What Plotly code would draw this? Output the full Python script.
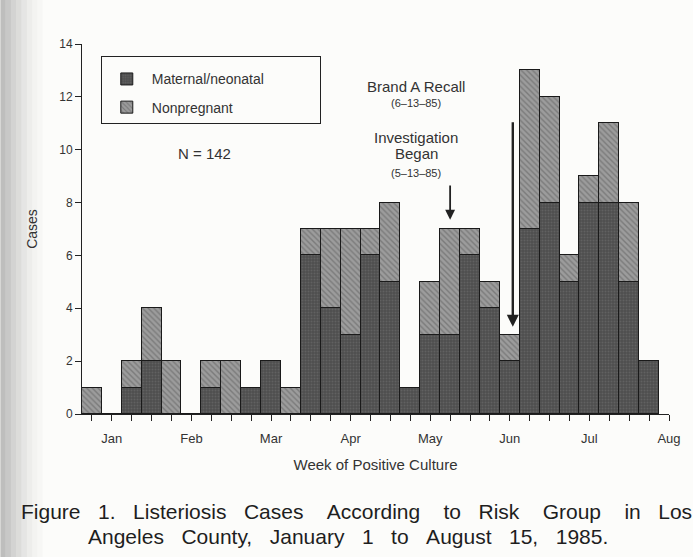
import plotly.graph_objects as go

# weekly case counts, Jan 1 - Aug 15, 1985 (29 weeks)
weeks = list(range(1, 30))
maternal = [0, 0, 1, 2, 0, 0, 1, 0, 1, 2, 0,
            6, 4, 3, 6, 5, 1, 3, 3, 6, 4, 2,
            7, 8, 5, 8, 8, 5, 2]
nonpregnant = [1, 0, 1, 2, 2, 0, 1, 2, 0, 0, 1,
               1, 3, 4, 1, 3, 0, 2, 4, 1, 1, 1,
               6, 4, 1, 1, 3, 3, 0]

month_pos = [2, 6, 10, 14, 18, 22, 26, 30]
month_labels = ["Jan", "Feb", "Mar", "Apr", "May", "Jun", "Jul", "Aug"]

font = "Liberation Sans, Arial, sans-serif"
ink = "#222222"
sp = "&#160;"
pad = "\u00a0" * 13  # widens the legend box like the print

fig = go.Figure()
fig.add_trace(go.Bar(
    x=weeks, y=maternal, name="Maternal/neonatal" + pad, legendgroup="m",
    marker=dict(color="#525252", line=dict(color="#1a1a1a", width=1),
                pattern=dict(shape=".", bgcolor="#4e4e4e", fgcolor="#737373",
                             size=3, solidity=0.35)),
))
fig.add_trace(go.Bar(
    x=weeks, y=nonpregnant, name="Nonpregnant", legendgroup="n",
    marker=dict(color="#8e8e8e", line=dict(color="#1a1a1a", width=1),
                pattern=dict(shape="\\", bgcolor="#9c9c9c", fgcolor="#5a5a5a",
                             size=4, solidity=0.35)),
))

# tick labels only at month positions
tickvals = list(range(1, 31))
ticktext = [month_labels[month_pos.index(v)] if v in month_pos else "" for v in tickvals]

fig.update_xaxes(range=[0.5, 30], tickvals=tickvals, ticktext=ticktext,
                 ticks="outside", ticklen=6, tickcolor=ink, showline=True,
                 linecolor=ink, linewidth=1, showgrid=False, zeroline=False,
                 ticklabelstandoff=6,
                 tickfont=dict(size=13, color="#333"),
                 title=dict(text="Week of Positive Culture", standoff=14,
                            font=dict(size=15, color="#333")))
fig.update_yaxes(range=[0, 14], dtick=2, ticks="outside", ticklen=6,
                 tickcolor=ink, showline=True, linecolor=ink, linewidth=1,
                 showgrid=False, zeroline=False,
                 tickfont=dict(size=12, color="#333"),
                 title=dict(text="Cases", standoff=18,
                            font=dict(size=14, color="#333")))

# event arrows
fig.add_annotation(x=19, y=7.35, ax=19, ay=8.7, xref="x", yref="y",
                   axref="x", ayref="y", text="", showarrow=True,
                   arrowhead=2, arrowsize=1.1, arrowwidth=1.8, arrowcolor=ink)
fig.add_annotation(x=22.15, y=3.3, ax=22.15, ay=11.1, xref="x", yref="y",
                   axref="x", ayref="y", text="", showarrow=True,
                   arrowhead=2, arrowsize=1.0, arrowwidth=2.4, arrowcolor=ink)

labels = [
    ("Brand A Recall", 17.3, 12.4, 15),
    ("(6\u201313\u201385)", 17.3, 11.77, 11),
    ("Investigation", 17.3, 10.48, 15),
    ("Began", 17.3, 9.84, 15),
    ("(5\u201313\u201385)", 17.3, 9.12, 11),
    ("N = 142", 6.65, 9.87, 15),
]
for txt, x, y, s in labels:
    fig.add_annotation(x=x, y=y, text=txt, showarrow=False,
                       font=dict(size=s, color="#333"))

# caption, two lines (first line justified in the print)
line1 = ["Figure", "1.", "Listeriosis", "Cases", "According", "to", "Risk",
         "Group", "in", "Los"]
line2 = ["Angeles", "County,", "January", "1", "to", "August", "15,", "1985."]
wide = {3, 4, 6, 7}  # gaps that get one extra space
text1 = line1[0]
for i, w in enumerate(line1[1:]):
    text1 += " " + sp * (3 if i in wide else 2) + w
fig.add_annotation(x=-0.107, y=-0.228, xref="paper", yref="paper",
                   xanchor="left", yanchor="top", showarrow=False,
                   text=text1,
                   font=dict(size=21, color="#1e1e1e", family=font))
fig.add_annotation(x=0.006, y=-0.295, xref="paper", yref="paper",
                   xanchor="left", yanchor="top", showarrow=False,
                   text=(" " + sp * 2).join(line2),
                   font=dict(size=21, color="#1e1e1e", family=font))

# scanned-page shading on the left edge
shade = [0.55, 0.45, 0.36, 0.28, 0.2, 0.13, 0.08, 0.04]
for i, op in enumerate(shade):
    fig.add_shape(type="rect", xref="paper", yref="paper",
                  x0=-0.139 + i * 0.009, x1=-0.139 + (i + 1) * 0.009,
                  y0=-0.4, y1=1.2, fillcolor="#8a8a8a", opacity=op,
                  line=dict(width=0), layer="below")

fig.update_layout(
    width=693, height=557,
    barmode="stack", bargap=0,
    margin=dict(l=82, r=21, t=44, b=143),
    paper_bgcolor="#fcfcfa", plot_bgcolor="#fcfcfa",
    font=dict(family=font, color="#333"),
    legend=dict(x=0.032, y=0.968, xanchor="left", yanchor="top",
                traceorder="grouped", tracegroupgap=7, itemwidth=40,
                title=dict(text=sp, font=dict(size=5)),
                bordercolor=ink, borderwidth=1, bgcolor="#fcfcfa",
                font=dict(size=14, color="#333")),
)

fig.write_html("out.html", config={"displayModeBar": False},
               post_script="document.body.style.margin='0';")
